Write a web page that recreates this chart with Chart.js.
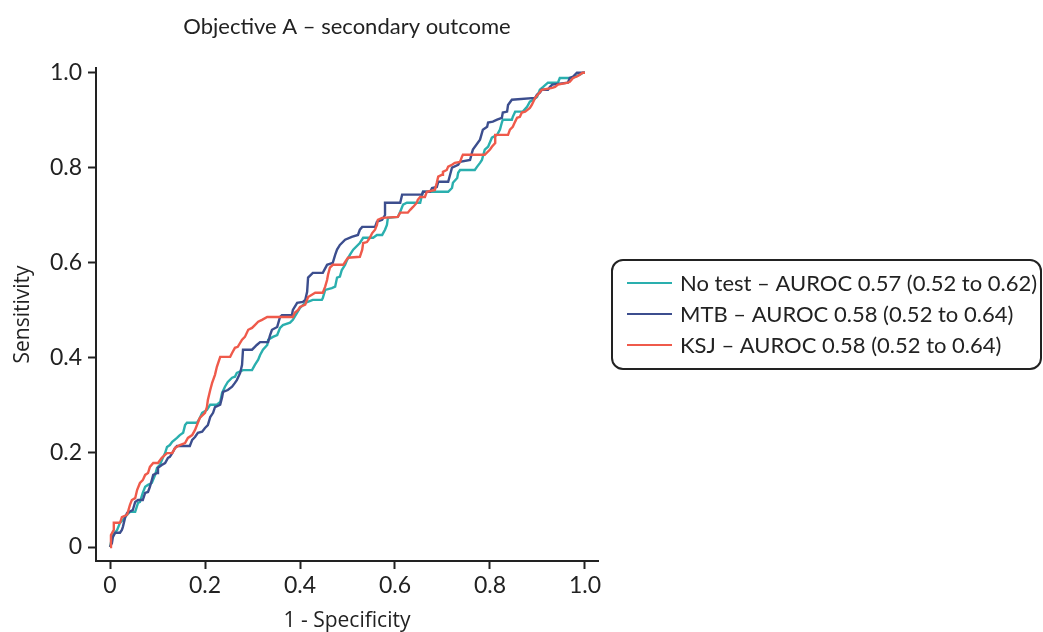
<!DOCTYPE html>
<html>
<head>
<meta charset="utf-8">
<script src="https://cdn.jsdelivr.net/npm/chart.js@4.4.1/dist/chart.umd.min.js"></script>
<style>
html,body{margin:0;padding:0;background:#fff;}
#wrap{width:1043px;height:632px;position:relative;}
</style>
</head>
<body>
<div id="wrap"><canvas id="c" width="1043" height="632"></canvas></div>
<script>
// ---- data (1 - specificity, sensitivity) ----
const titleText = 'Objective A \u2013 secondary outcome';
const xTitle = '1 - Specificity';
const yTitle = 'Sensitivity';
const tickValues = [0, 0.2, 0.4, 0.6, 0.8, 1.0];
const tickLabels = ['0', '0.2', '0.4', '0.6', '0.8', '1.0'];
const seriesLabels = [
  'No test \u2013 AUROC 0.57 (0.52 to 0.62)',
  'MTB \u2013 AUROC 0.58 (0.52 to 0.64)',
  'KSJ \u2013 AUROC 0.58 (0.52 to 0.64)'
];
const seriesColors = ['#2aafae', '#3c4e8e', '#ef5a4b'];

const noTest = [[0,0],[0.004,0.019],[0.006,0.025],[0.015,0.036],[0.021,0.051],[0.027,0.057],[0.036,0.068],[0.042,0.074],[0.053,0.074],[0.059,0.093],[0.063,0.095],[0.069,0.114],[0.074,0.127],[0.080,0.131],[0.088,0.135],[0.095,0.152],[0.099,0.167],[0.105,0.173],[0.112,0.190],[0.116,0.198],[0.120,0.211],[0.126,0.215],[0.131,0.222],[0.141,0.230],[0.147,0.236],[0.154,0.241],[0.158,0.257],[0.162,0.262],[0.183,0.262],[0.189,0.272],[0.194,0.283],[0.204,0.289],[0.211,0.300],[0.225,0.300],[0.232,0.306],[0.236,0.325],[0.242,0.338],[0.248,0.348],[0.257,0.357],[0.263,0.359],[0.267,0.367],[0.280,0.373],[0.299,0.373],[0.305,0.384],[0.312,0.395],[0.316,0.405],[0.322,0.416],[0.331,0.426],[0.333,0.437],[0.343,0.443],[0.352,0.447],[0.358,0.462],[0.364,0.468],[0.379,0.473],[0.385,0.479],[0.394,0.494],[0.400,0.504],[0.411,0.515],[0.427,0.521],[0.446,0.521],[0.448,0.525],[0.453,0.542],[0.467,0.546],[0.474,0.549],[0.478,0.568],[0.484,0.570],[0.488,0.584],[0.495,0.595],[0.499,0.605],[0.505,0.616],[0.512,0.627],[0.526,0.641],[0.533,0.652],[0.554,0.652],[0.562,0.658],[0.573,0.658],[0.579,0.669],[0.583,0.679],[0.585,0.694],[0.606,0.696],[0.611,0.707],[0.617,0.722],[0.625,0.726],[0.653,0.726],[0.657,0.743],[0.659,0.749],[0.712,0.749],[0.720,0.757],[0.722,0.768],[0.731,0.778],[0.733,0.789],[0.737,0.795],[0.768,0.795],[0.773,0.802],[0.779,0.810],[0.783,0.816],[0.789,0.838],[0.796,0.844],[0.804,0.863],[0.815,0.869],[0.821,0.880],[0.825,0.895],[0.827,0.901],[0.846,0.901],[0.848,0.907],[0.853,0.918],[0.869,0.918],[0.878,0.928],[0.884,0.939],[0.891,0.943],[0.899,0.949],[0.905,0.964],[0.912,0.970],[0.922,0.979],[0.943,0.979],[0.947,0.989],[0.973,0.989],[0.989,0.996],[0.996,1.0],[1,1]];

const mtb = [[0,0],[0.004,0.008],[0.006,0.021],[0.011,0.030],[0.021,0.030],[0.025,0.036],[0.027,0.042],[0.032,0.063],[0.036,0.072],[0.048,0.078],[0.053,0.095],[0.059,0.099],[0.069,0.099],[0.074,0.114],[0.080,0.116],[0.084,0.127],[0.088,0.141],[0.091,0.152],[0.099,0.156],[0.101,0.167],[0.109,0.173],[0.116,0.177],[0.122,0.188],[0.126,0.190],[0.131,0.198],[0.137,0.209],[0.141,0.213],[0.168,0.213],[0.173,0.226],[0.179,0.232],[0.185,0.241],[0.194,0.243],[0.200,0.251],[0.206,0.257],[0.211,0.274],[0.217,0.283],[0.221,0.295],[0.232,0.300],[0.236,0.316],[0.238,0.327],[0.248,0.331],[0.257,0.338],[0.263,0.346],[0.267,0.352],[0.274,0.367],[0.278,0.384],[0.280,0.416],[0.299,0.416],[0.305,0.422],[0.309,0.426],[0.316,0.432],[0.333,0.432],[0.337,0.447],[0.341,0.458],[0.352,0.464],[0.358,0.485],[0.362,0.489],[0.383,0.489],[0.385,0.500],[0.394,0.515],[0.406,0.517],[0.411,0.521],[0.415,0.538],[0.417,0.568],[0.427,0.578],[0.448,0.578],[0.457,0.595],[0.469,0.599],[0.474,0.616],[0.478,0.627],[0.484,0.637],[0.495,0.648],[0.509,0.654],[0.522,0.658],[0.526,0.669],[0.531,0.675],[0.558,0.675],[0.562,0.686],[0.573,0.690],[0.579,0.700],[0.579,0.726],[0.611,0.726],[0.615,0.743],[0.657,0.743],[0.659,0.749],[0.674,0.749],[0.678,0.757],[0.688,0.759],[0.691,0.770],[0.712,0.770],[0.716,0.785],[0.720,0.800],[0.733,0.806],[0.737,0.812],[0.758,0.816],[0.762,0.831],[0.764,0.838],[0.779,0.859],[0.785,0.880],[0.794,0.886],[0.796,0.895],[0.806,0.897],[0.815,0.901],[0.825,0.905],[0.827,0.916],[0.836,0.918],[0.838,0.932],[0.846,0.943],[0.895,0.947],[0.899,0.954],[0.905,0.958],[0.909,0.964],[0.922,0.964],[0.926,0.970],[0.931,0.975],[0.964,0.979],[0.968,0.989],[0.975,0.992],[0.983,1.0],[1,1]];

const ksj = [[0,0],[0.002,0.025],[0.008,0.036],[0.008,0.051],[0.021,0.051],[0.025,0.063],[0.036,0.068],[0.042,0.089],[0.046,0.099],[0.053,0.103],[0.057,0.120],[0.063,0.135],[0.069,0.141],[0.074,0.152],[0.080,0.156],[0.084,0.169],[0.091,0.177],[0.101,0.177],[0.109,0.188],[0.120,0.198],[0.131,0.198],[0.137,0.209],[0.147,0.215],[0.158,0.219],[0.164,0.230],[0.173,0.236],[0.179,0.247],[0.185,0.262],[0.189,0.272],[0.200,0.283],[0.204,0.295],[0.206,0.310],[0.211,0.331],[0.215,0.346],[0.221,0.363],[0.225,0.380],[0.232,0.401],[0.253,0.401],[0.257,0.409],[0.263,0.420],[0.269,0.422],[0.278,0.437],[0.284,0.443],[0.291,0.458],[0.299,0.462],[0.305,0.468],[0.312,0.475],[0.320,0.479],[0.331,0.485],[0.385,0.485],[0.389,0.494],[0.396,0.500],[0.400,0.506],[0.411,0.511],[0.417,0.527],[0.425,0.532],[0.432,0.536],[0.448,0.536],[0.453,0.549],[0.457,0.563],[0.459,0.574],[0.463,0.589],[0.469,0.595],[0.491,0.595],[0.495,0.601],[0.501,0.610],[0.526,0.612],[0.531,0.627],[0.533,0.641],[0.541,0.643],[0.547,0.652],[0.552,0.662],[0.558,0.669],[0.562,0.679],[0.564,0.690],[0.573,0.694],[0.606,0.696],[0.611,0.705],[0.627,0.705],[0.632,0.711],[0.638,0.717],[0.646,0.726],[0.648,0.732],[0.653,0.738],[0.663,0.738],[0.667,0.749],[0.684,0.753],[0.688,0.768],[0.691,0.781],[0.699,0.785],[0.701,0.791],[0.709,0.795],[0.712,0.802],[0.720,0.806],[0.726,0.810],[0.737,0.812],[0.741,0.823],[0.743,0.827],[0.789,0.827],[0.800,0.838],[0.804,0.844],[0.811,0.852],[0.811,0.869],[0.838,0.869],[0.842,0.880],[0.848,0.886],[0.853,0.897],[0.857,0.905],[0.863,0.907],[0.867,0.916],[0.874,0.918],[0.884,0.926],[0.888,0.932],[0.895,0.947],[0.901,0.954],[0.909,0.964],[0.931,0.968],[0.937,0.970],[0.943,0.975],[0.964,0.979],[0.968,0.981],[0.975,0.989],[0.983,0.992],[0.989,0.996],[0.995,1.0],[1,1]];

const seriesData = [noTest, mtb, ksj];

// ---- chart ----
const AXIS = '#222222';
const toPts = arr => arr.map(p => ({x: p[0], y: p[1]}));

const boxLegend = {
  id: 'boxLegend',
  afterDraw(chart) {
    const ctx = chart.ctx;
    const bx = 612, by = 260, bw = 429, bh = 109;
    ctx.save();
    ctx.lineWidth = 2;
    ctx.strokeStyle = AXIS;
    ctx.beginPath();
    ctx.roundRect(bx, by, bw, bh, 11);
    ctx.stroke();
    ctx.font = '22px Lato';
    ctx.textBaseline = 'middle';
    ctx.textAlign = 'left';
    chart.data.datasets.forEach((ds, i) => {
      const y = 283 + i * 31;
      ctx.strokeStyle = ds.borderColor;
      ctx.lineWidth = 2;
      ctx.beginPath();
      ctx.moveTo(627, y);
      ctx.lineTo(672, y);
      ctx.stroke();
      ctx.fillStyle = AXIS;
      ctx.fillText(ds.label, 680, y + 1);
    });
    ctx.restore();
  }
};

const axisCommon = {
  type: 'linear',
  afterBuildTicks: s => { s.ticks = tickValues.map(v => ({value: v})); },
  grid: {display: true, drawOnChartArea: false, drawTicks: true, tickLength: 8, tickWidth: 2, color: AXIS},
  border: {display: true, color: AXIS, width: 2}
};

function build() {
  new Chart(document.getElementById('c'), {
    type: 'line',
    data: {
      datasets: seriesData.map((d, i) => ({
        label: seriesLabels[i],
        data: toPts(d),
        borderColor: seriesColors[i],
        backgroundColor: seriesColors[i],
        borderWidth: 2.4,
        pointRadius: 0,
        tension: 0,
        fill: false,
        order: 2 - i
      }))
    },
    options: {
      responsive: false,
      animation: false,
      devicePixelRatio: 1,
      layout: {padding: {left: 0, right: 445, top: 0, bottom: 0}},
      plugins: {
        legend: {display: false},
        tooltip: {enabled: false},
        title: {
          display: true,
          text: titleText,
          fullSize: false,
          color: AXIS,
          font: {family: 'Lato', size: 22, weight: 'normal', lineHeight: 1.2},
          padding: {top: 14, bottom: 27.6}
        }
      },
      scales: {
        x: Object.assign({}, axisCommon, {
          min: -0.0295, max: 1.0274,
          afterFit: s => { s.height = 71; },
          ticks: {color: AXIS, padding: 3, font: {family: 'Lato', size: 23},
                  callback: (v) => tickLabels[tickValues.indexOf(v)] ?? ''},
          title: {display: true, text: xTitle, color: AXIS,
                  font: {family: 'Open Sans', size: 21, lineHeight: 1.0}, padding: {top: 0, bottom: 0}}
        }),
        y: Object.assign({}, axisCommon, {
          min: -0.0295, max: 1.0100,
          afterFit: s => { s.width = 96; },
          ticks: {color: AXIS, padding: 6, font: {family: 'Lato', size: 23},
                  callback: (v) => tickLabels[tickValues.indexOf(v)] ?? ''},
          title: {display: true, text: yTitle, color: AXIS,
                  font: {family: 'Open Sans', size: 21, lineHeight: 1.0}, padding: {top: 13, bottom: 0}}
        })
      }
    },
    plugins: [boxLegend]
  });
}

Promise.all([
  document.fonts.load('22px Lato'),
  document.fonts.load('21px "Open Sans"')
]).then(build, build);
</script>
</body>
</html>
